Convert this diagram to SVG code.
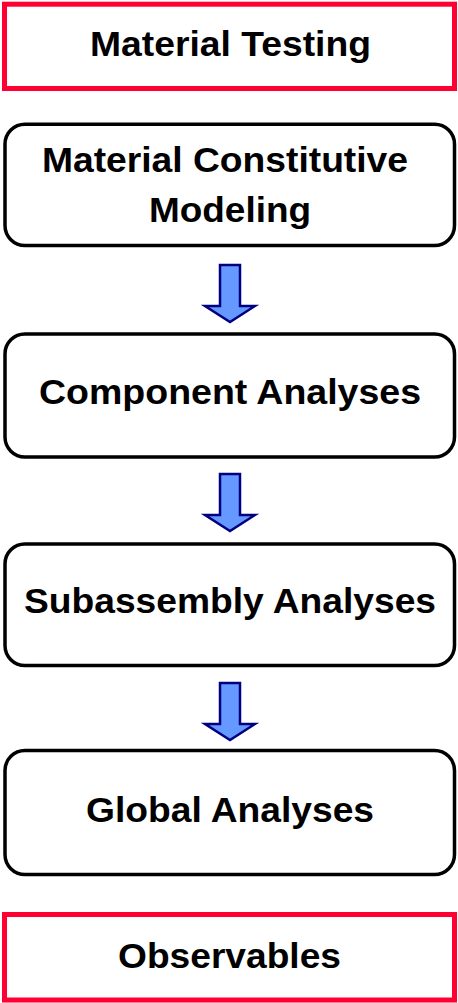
<svg xmlns="http://www.w3.org/2000/svg" width="458" height="1003" viewBox="0 0 458 1003">
<style>
.red{fill:#fff;stroke:#ff0033;stroke-width:5}
.box{fill:#fff;stroke:#000;stroke-width:3.5}
.t{font-family:"Liberation Sans",Arial,sans-serif;font-weight:bold;font-size:34.5px;fill:#000;text-anchor:middle}
.arr{fill:#6699ff;stroke:#000080;stroke-width:2.5;stroke-linejoin:miter}
</style>
<defs>
<polygon id="arrow" class="arr" points="220,0 240,0 240,41 255,41 230,57 205,41 220,41"/>
</defs>
<rect width="458" height="1003" fill="#fff"/>
<g id="material-testing">
<rect class="red" x="4.5" y="4.2" width="450" height="84.3"/>
<text class="t" x="230.5" y="56" textLength="281" lengthAdjust="spacingAndGlyphs">Material Testing</text>
</g>
<g id="constitutive-modeling">
<rect class="box" x="5" y="124.2" width="449.5" height="121.3" rx="20"/>
<text class="t" x="225" y="172" textLength="366" lengthAdjust="spacingAndGlyphs">Material Constitutive</text>
<text class="t" x="230" y="221.7" textLength="162" lengthAdjust="spacingAndGlyphs">Modeling</text>
</g>
<g id="component-analyses">
<rect class="box" x="5" y="334" width="449.5" height="123" rx="20"/>
<text class="t" x="230" y="404" textLength="382" lengthAdjust="spacingAndGlyphs">Component Analyses</text>
</g>
<g id="subassembly-analyses">
<rect class="box" x="5" y="544" width="449.5" height="121.5" rx="20"/>
<text class="t" x="230" y="613" textLength="412" lengthAdjust="spacingAndGlyphs">Subassembly Analyses</text>
</g>
<g id="global-analyses">
<rect class="box" x="5" y="750.5" width="449.5" height="124" rx="20"/>
<text class="t" x="230" y="822" textLength="288" lengthAdjust="spacingAndGlyphs">Global Analyses</text>
</g>
<g id="observables">
<rect class="red" x="4.5" y="914.5" width="450" height="85.5"/>
<text class="t" x="229.5" y="968" textLength="223" lengthAdjust="spacingAndGlyphs">Observables</text>
</g>
<g id="connectors">
<use href="#arrow" y="265"/>
<use href="#arrow" y="474"/>
<use href="#arrow" y="683"/>
</g>
</svg>
